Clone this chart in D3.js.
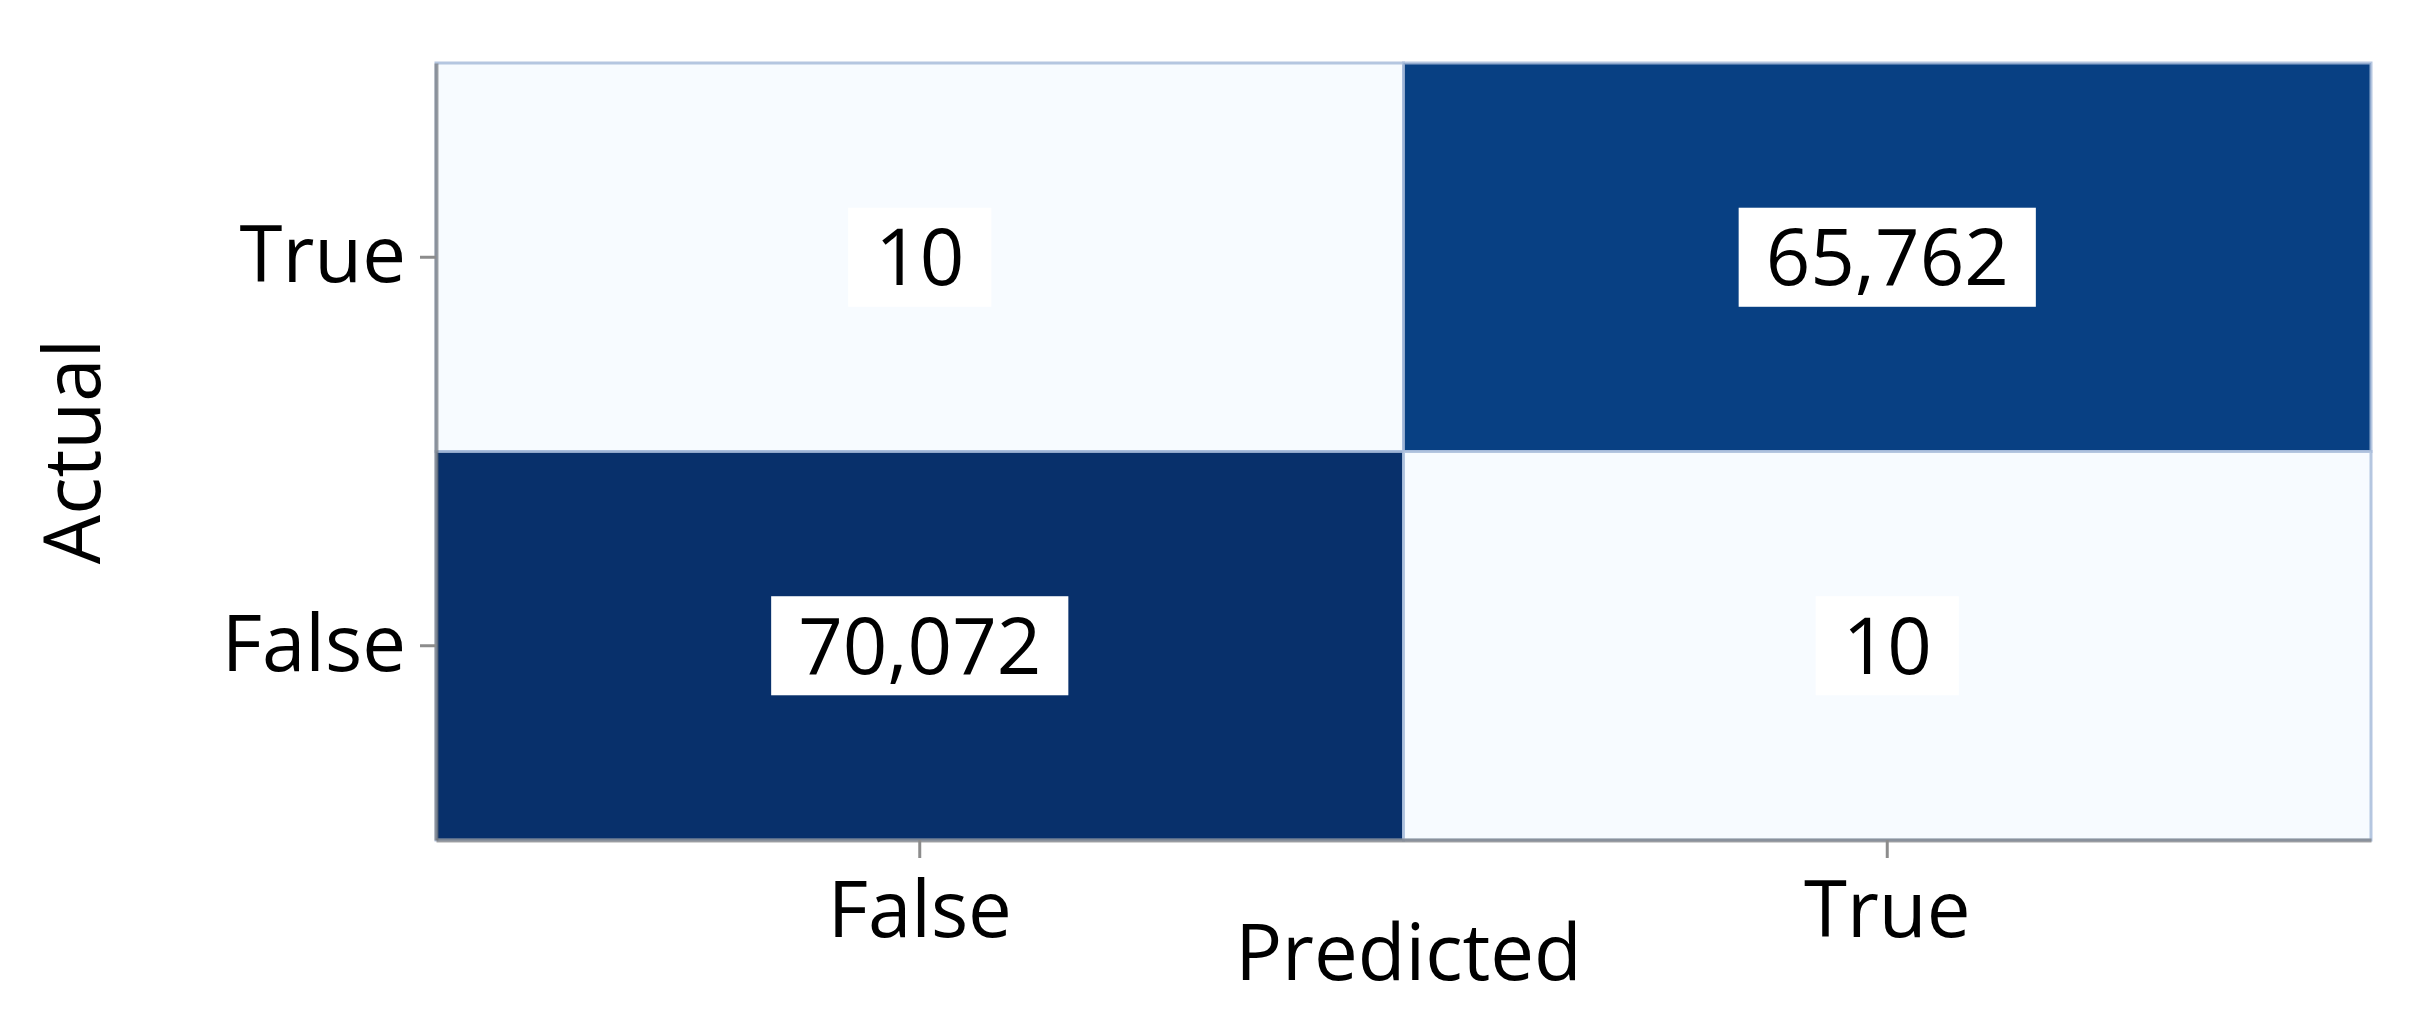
<!DOCTYPE html>
<html>
<head>
<meta charset="utf-8">
<script src="https://cdn.jsdelivr.net/npm/d3@7"></script>
<style>
	body { margin: 0; background: #fff; }
	svg { display: block; font-family: "Open Sans", "Noto Sans", sans-serif; }
</style>
</head>
<body>
<div id="chart"></div>
<script>
var actual = ['True', 'False'],
	predicted = ['False', 'True'],
	// counts[row][col], rows = actual, cols = predicted
	counts = [
		[10, 65762],
		[70072, 10]
	]

var width = 2431,
	height = 1022,
	margins = {top: 63, right: 60, bottom: 182, left: 436},
	fontSize = 78,
	vis, plot, x, y, color, cells

var cellData = []
actual.forEach(function(a, i) {
	predicted.forEach(function(p, j) {
		cellData.push({actual: a, predicted: p, value: counts[i][j]})
	})
})

vis = d3.select('#chart').append('svg')
	.attr('width', width)
	.attr('height', height)

x = d3.scaleBand()
	.domain(predicted)
	.range([margins.left, width - margins.right])

y = d3.scaleBand()
	.domain(actual)
	.range([margins.top, height - margins.bottom])

color = d3.scaleSequential(d3.interpolateBlues)
	.domain(d3.extent(cellData, function(d) { return d.value }))

plot = vis.append('g')

cells = plot.selectAll('g.cell')
	.data(cellData)
	.join('g')
	.attr('class', 'cell')

cells.append('rect')
	.attr('x', function(d) { return x(d.predicted) })
	.attr('y', function(d) { return y(d.actual) })
	.attr('width', x.bandwidth())
	.attr('height', y.bandwidth())
	.attr('fill', function(d) { return color(d.value) })
	.attr('stroke', 'rgba(168, 188, 218, 0.85)')
	.attr('stroke-width', 3)

// value labels sit on white boxes
var labels = cells.append('text')
	.attr('x', function(d) { return x(d.predicted) + x.bandwidth() / 2 })
	.attr('y', function(d) { return y(d.actual) + y.bandwidth() / 2 })
	.attr('dy', '0.36em')
	.attr('text-anchor', 'middle')
	.attr('font-size', fontSize)
	.attr('fill', '#000')
	.text(function(d) { return d3.format(',')(d.value) })

labels.each(function() {
	var bb = this.getBBox(),
		cy = +this.getAttribute('y')
	d3.select(this.parentNode).insert('rect', 'text')
		.attr('x', bb.x - 27)
		.attr('y', cy - fontSize * 0.635)
		.attr('width', bb.width + 54)
		.attr('height', fontSize * 1.27)
		.attr('fill', '#fff')
})

// axes
var yAxis = vis.append('g')
	.attr('transform', 'translate(' + margins.left + ',0)')
	.call(d3.axisLeft(y).tickSize(16).tickSizeOuter(0).tickPadding(14))

var xAxis = vis.append('g')
	.attr('transform', 'translate(0,' + (height - margins.bottom) + ')')
	.call(d3.axisBottom(x).tickSize(18).tickSizeOuter(0).tickPadding(24))

vis.selectAll('.domain')
	.attr('stroke', 'rgba(110, 110, 110, 0.6)')
	.attr('stroke-width', 4)

vis.selectAll('.tick line')
	.attr('stroke', '#8c8c8c')
	.attr('stroke-width', 3)

vis.selectAll('.tick text')
	.attr('font-size', fontSize)
	.attr('font-family', '"Open Sans", "Noto Sans", sans-serif')
	.attr('fill', '#000')

// axis titles
vis.append('text')
	.attr('transform', 'translate(100,' + (margins.top + (height - margins.bottom - margins.top) / 2) + ') rotate(-90)')
	.attr('text-anchor', 'middle')
	.attr('font-size', fontSize)
	.attr('fill', '#000')
	.text('Actual')

vis.append('text')
	.attr('x', margins.left + (width - margins.right - margins.left) / 2 + 5)
	.attr('y', 980)
	.attr('text-anchor', 'middle')
	.attr('font-size', fontSize)
	.attr('fill', '#000')
	.text('Predicted')
</script>
</body>
</html>
